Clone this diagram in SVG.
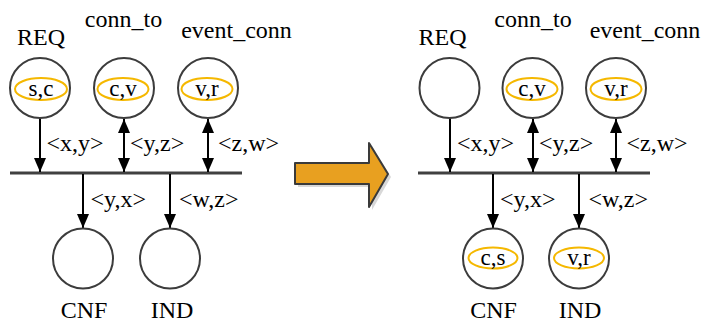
<svg xmlns="http://www.w3.org/2000/svg" width="702" height="323" viewBox="0 0 702 323" font-family="'Liberation Serif', 'Times New Roman', 'DejaVu Serif', serif">
<style>
text{font-family:'Liberation Serif','Times New Roman','DejaVu Serif',serif;fill:#000}
.t{font-size:24px}
.m{text-anchor:middle}
.in{font-size:23px;text-anchor:middle}
.c{fill:#fff;stroke:#3c3c3c;stroke-width:2}
.e{fill:none;stroke:#f5b800;stroke-width:2}
.bus{stroke:#404040;stroke-width:3;fill:none}
.a{stroke:#000;stroke-width:2;fill:none}
</style>
<defs>
<marker id="ah" markerUnits="userSpaceOnUse" markerWidth="14" markerHeight="12" refX="14" refY="6" orient="auto-start-reverse" viewBox="0 0 14 12">
<path d="M0,0 L14,6 L0,12 z" fill="#000"/>
</marker>
</defs>
<rect width="702" height="323" fill="#fff"/>

<g id="connectors">
<line class="bus" x1="10" y1="173" x2="242" y2="173"/>
<line class="a" x1="40" y1="118" x2="40" y2="172" marker-end="url(#ah)"/>
<line class="a" x1="124" y1="119" x2="124" y2="172" marker-start="url(#ah)" marker-end="url(#ah)"/>
<line class="a" x1="208" y1="119" x2="208" y2="172" marker-start="url(#ah)" marker-end="url(#ah)"/>
<line class="a" x1="83" y1="174" x2="83" y2="228" marker-end="url(#ah)"/>
<line class="a" x1="170" y1="174" x2="170" y2="228" marker-end="url(#ah)"/>

<line class="bus" x1="418" y1="173" x2="650" y2="173"/>
<line class="a" x1="450" y1="118" x2="450" y2="172" marker-end="url(#ah)"/>
<line class="a" x1="533" y1="119" x2="533" y2="172" marker-start="url(#ah)" marker-end="url(#ah)"/>
<line class="a" x1="616" y1="119" x2="616" y2="172" marker-start="url(#ah)" marker-end="url(#ah)"/>
<line class="a" x1="493" y1="174" x2="493" y2="228" marker-end="url(#ah)"/>
<line class="a" x1="579" y1="174" x2="579" y2="228" marker-end="url(#ah)"/>

<text class="t" x="46.5" y="151">&lt;x,y&gt;</text>
<text class="t" x="130" y="151">&lt;y,z&gt;</text>
<text class="t" x="218" y="151">&lt;z,w&gt;</text>
<text class="t" x="90.5" y="207">&lt;y,x&gt;</text>
<text class="t" x="179" y="207">&lt;w,z&gt;</text>

<text class="t" x="457" y="151">&lt;x,y&gt;</text>
<text class="t" x="539" y="151">&lt;y,z&gt;</text>
<text class="t" x="626.5" y="151">&lt;z,w&gt;</text>
<text class="t" x="500" y="207">&lt;y,x&gt;</text>
<text class="t" x="588.5" y="207">&lt;w,z&gt;</text>
</g>

<g id="L-REQ">
<text class="t m" x="41" y="45">REQ</text>
<circle class="c" cx="40" cy="88" r="30"/>
<ellipse class="e" cx="41" cy="89" rx="26" ry="11"/>
<text class="in" x="41" y="96">s,c</text>
</g>
<g id="L-conn_to">
<text class="t m" x="123.5" y="27">conn_to</text>
<circle class="c" cx="124" cy="88" r="30"/>
<ellipse class="e" cx="123" cy="89" rx="25.5" ry="11"/>
<text class="in" x="123" y="96">c,v</text>
</g>
<g id="L-event_conn">
<text class="t m" x="236.5" y="38">event_conn</text>
<circle class="c" cx="208" cy="88" r="30"/>
<ellipse class="e" cx="207" cy="89" rx="25.5" ry="11"/>
<text class="in" x="207" y="96">v,r</text>
</g>
<g id="L-CNF">
<circle class="c" cx="83" cy="258.5" r="30"/>
<text class="t m" x="84" y="318">CNF</text>
</g>
<g id="L-IND">
<circle class="c" cx="170" cy="258.5" r="30"/>
<text class="t m" x="172" y="318">IND</text>
</g>

<g id="transform-arrow">
<path d="M298,166 H372 V146 L391,177 L372,210 V187 H298 Z" fill="#c8c8c8" opacity="0.7"/>
<path d="M295,163 H369 V143 L388,174 L369,207 V184 H295 Z" fill="#e8a020" stroke="#3a3a3a" stroke-width="2" stroke-linejoin="round"/>
</g>

<g id="R-REQ">
<text class="t m" x="442.5" y="45">REQ</text>
<circle class="c" cx="449.5" cy="88" r="30"/>
</g>
<g id="R-conn_to">
<text class="t m" x="533" y="27">conn_to</text>
<circle class="c" cx="532.5" cy="88" r="30"/>
<ellipse class="e" cx="532" cy="89" rx="25.5" ry="11"/>
<text class="in" x="532" y="96">c,v</text>
</g>
<g id="R-event_conn">
<text class="t m" x="645" y="38">event_conn</text>
<circle class="c" cx="616" cy="88" r="30"/>
<ellipse class="e" cx="616" cy="89" rx="25.5" ry="11"/>
<text class="in" x="616" y="96">v,r</text>
</g>
<g id="R-CNF">
<circle class="c" cx="493" cy="258.5" r="30"/>
<ellipse class="e" cx="493" cy="258" rx="24.5" ry="10.5"/>
<text class="in" x="493" y="265">c,s</text>
<text class="t m" x="493.5" y="318">CNF</text>
</g>
<g id="R-IND">
<circle class="c" cx="579" cy="258.5" r="30"/>
<ellipse class="e" cx="579" cy="258" rx="25" ry="10.5"/>
<text class="in" x="579" y="265">v,r</text>
<text class="t m" x="580" y="318">IND</text>
</g>
</svg>
